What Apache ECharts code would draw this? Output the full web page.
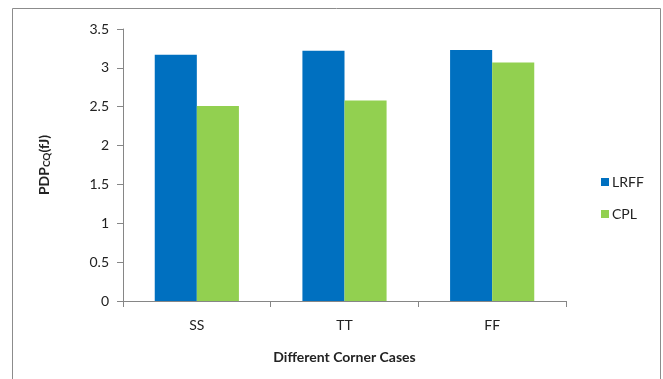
<!DOCTYPE html>
<html>
<head>
<meta charset="utf-8">
<script src="https://cdn.jsdelivr.net/npm/echarts@6/dist/echarts.min.js"></script>
<style>
  html, body { margin: 0; padding: 0; background: #fff; }
  #chart { width: 663px; height: 379px; }
</style>
</head>
<body>
<div id="chart"></div>
<script>
// Corner cases on the x axis
const categories = ['SS', 'TT', 'FF'];
// PDP (fJ) per design
const lrffValues = [3.17, 3.22, 3.23];
const cplValues = [2.51, 2.58, 3.07];
const seriesNames = ['LRFF', 'CPL'];

const FONT = 'Lato, "Open Sans", sans-serif';

const chart = echarts.init(document.getElementById('chart'));
chart.setOption({
  animation: false,
  backgroundColor: '#fff',
  graphic: [{
    type: 'rect',
    shape: { x: 12.5, y: 8.5, width: 648, height: 380 },
    style: { fill: 'none', stroke: '#8c8c8c', lineWidth: 1 },
    silent: true
  }],
  grid: { left: 123, right: 97, top: 29, bottom: 78 },
  legend: {
    orient: 'vertical',
    left: 596,
    top: 170,
    itemWidth: 8,
    itemHeight: 8,
    itemGap: 18,
    icon: 'rect',
    textStyle: { fontFamily: FONT, fontSize: 14, color: '#222', padding: [0, 0, 0, -2] },
    data: seriesNames
  },
  xAxis: {
    type: 'category',
    data: categories,
    name: 'Different Corner Cases',
    nameLocation: 'middle',
    nameGap: 49,
    nameTextStyle: { fontFamily: FONT, fontSize: 14, fontWeight: 'bold', color: '#222' },
    axisLine: { lineStyle: { color: '#868686' } },
    axisTick: { show: true, length: 6, lineStyle: { color: '#868686' } },
    axisLabel: { fontFamily: FONT, fontSize: 14, color: '#222', margin: 17 }
  },
  yAxis: {
    type: 'value',
    min: 0,
    max: 3.5,
    interval: 0.5,
    name: '{b|PDP}{s|CQ}{b|(fJ)}',
    nameLocation: 'middle',
    nameRotate: 90,
    nameGap: 71,
    nameTextStyle: {
      rich: {
        b: { fontFamily: FONT, fontSize: 14, fontWeight: 'bold', color: '#222' },
        s: { fontFamily: FONT, fontSize: 10, fontWeight: 'bold', color: '#222', padding: [6, 0, 0, 0] }
      }
    },
    splitLine: { show: false },
    axisLine: { show: true, lineStyle: { color: '#868686' } },
    axisTick: { show: true, length: 6, lineStyle: { color: '#868686' } },
    axisLabel: { fontFamily: FONT, fontSize: 14, color: '#222', margin: 14 }
  },
  series: [
    {
      name: seriesNames[0],
      type: 'bar',
      data: lrffValues,
      barGap: '0%',
      barCategoryGap: '43%',
      itemStyle: { color: '#0070c0' }
    },
    {
      name: seriesNames[1],
      type: 'bar',
      data: cplValues,
      itemStyle: { color: '#92d050' }
    }
  ]
});
</script>
</body>
</html>
